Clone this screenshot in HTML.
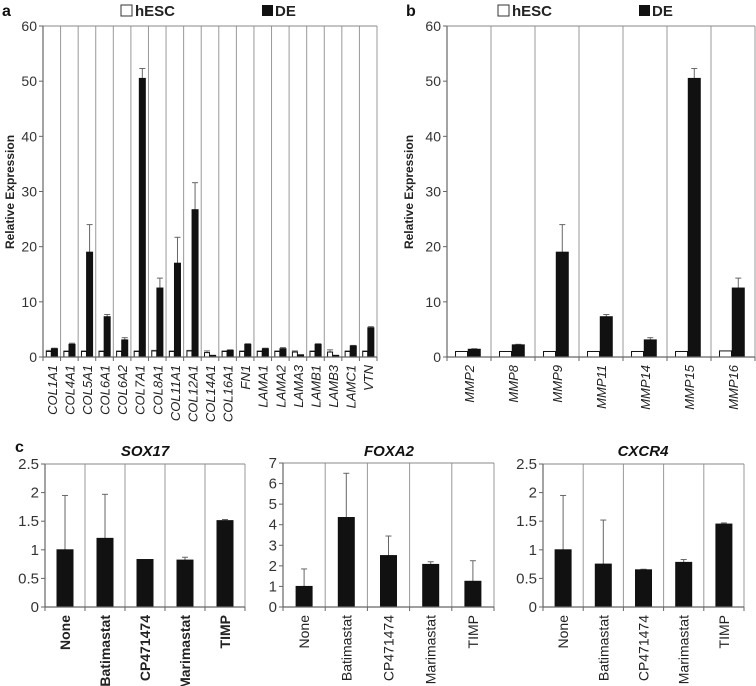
<!DOCTYPE html>
<html><head><meta charset="utf-8"><style>
body{margin:0;background:#fff}
svg{display:block;font-family:"Liberation Sans",sans-serif}
</style></head><body>
<svg id="s" width="756" height="686" xmlns="http://www.w3.org/2000/svg"></svg>
<script>
const aCats=["COL1A1","COL4A1","COL5A1","COL6A1","COL6A2","COL7A1","COL8A1","COL11A1","COL12A1","COL14A1","COL16A1","FN1","LAMA1","LAMA2","LAMA3","LAMB1","LAMB3","LAMC1","VTN"];
const aH=[1,1,1,1,1,1,1.1,1,1.1,0.8,1,1,1,1,0.9,1,0.9,1,1];
const aHe=[0.2,0.1,0.1,0.1,0.1,0.1,0.1,0.1,0.1,0.3,0.1,0.1,0.1,0.1,0.2,0.1,0.4,0.1,0.1];
const aD=[1.5,2.3,19,7.3,3.1,50.5,12.5,17,26.7,0.3,1.2,2.3,1.5,1.5,0.4,2.3,0.3,2,5.3];
const aDe=[0.1,0.2,5,0.4,0.4,1.8,1.8,4.7,4.9,0,0.1,0.1,0.1,0.2,0,0.1,0,0.1,0.2];
const bCats=["MMP2","MMP8","MMP9","MMP11","MMP14","MMP15","MMP16"];
const bH=[1,1,1,1,1,1,1.1];
const bD=[1.4,2.2,19,7.3,3.1,50.5,12.5];
const bDe=[0.1,0.1,5,0.4,0.4,1.8,1.8];
const abTicks=[0,10,20,30,40,50,60];
const cCats=["None","Batimastat","CP471474","Marimastat","TIMP"];
const soxV=[1,1.2,0.83,0.82,1.51];
const soxE=[0.95,0.77,0,0.05,0.02];
const foxV=[1,4.35,2.5,2.07,1.25];
const foxE=[0.85,2.15,0.95,0.13,1.0];
const cxcV=[1,0.75,0.65,0.78,1.45];
const cxcE=[0.95,0.77,0.01,0.05,0.02];
const t25=[0,0.5,1,1.5,2,2.5];
const t7=[0,1,2,3,4,5,6,7];
const labels25=["0","0.5","1","1.5","2","2.5"];

const S=document.getElementById('s');
function el(tag,at,txt){const e=document.createElementNS("http://www.w3.org/2000/svg",tag);for(const k in at)e.setAttribute(k,at[k]);if(txt!=null)e.textContent=txt;S.appendChild(e);return e;}

function panel(o){
  const {x0,x1,y0,y1,max,cats,ticks,tickLabels,series,name}=o;
  const ys=v=>y0-(v/max)*(y0-y1);
  const n=cats.length,w=(x1-x0)/n;
  const xs=i=>x0+w*i;
  for(let i=1;i<=n;i++){const g=el('line',{x1:xs(i),x2:xs(i),y1:y1,y2:y0,stroke:'#999','stroke-width':1});}
  const tb=el('line',{x1:x0,x2:x1,y1:y1,y2:y1,stroke:'#888','stroke-width':1});
  const ya=el('line',{x1:x0,x2:x0,y1:y1,y2:y0,stroke:'#666','stroke-width':1.2});
  ticks.forEach((t,i)=>{
    el('line',{x1:x0-4,x2:x0,y1:ys(t),y2:ys(t),stroke:'#666'});
    const tl=el('text',{x:x0-6,y:ys(t)+5,'text-anchor':'end','font-size':o.tfs||14,fill:'#333'},tickLabels?tickLabels[i]:t);
    
  });
  series.forEach(s=>{
    cats.forEach((c,i)=>{
      const cx=xs(i)+w*s.off;
      const v=s.vals[i],top=ys(v);
      if(s.err&&s.err[i]>0){
        el('line',{x1:cx,x2:cx,y1:ys(v+s.err[i]),y2:top,stroke:'#666'});
        el('line',{x1:cx-3,x2:cx+3,y1:ys(v+s.err[i]),y2:ys(v+s.err[i]),stroke:'#666'});
      }
      const r=el('rect',{x:cx-s.bw/2,y:top,width:s.bw,height:y0-top,fill:s.fill,stroke:'#111','stroke-width':1});
      
      
    });
  });
  const xa=el('line',{x1:x0,x2:x1,y1:y0,y2:y0,stroke:'#666','stroke-width':1.2});
  for(let i=0;i<=n;i++)el('line',{x1:xs(i),x2:xs(i),y1:y0,y2:y0+4,stroke:'#666'});
  cats.forEach((c,i)=>{
    const cx=xs(i)+w/2+5,ty=y0+8;
    const t=el('text',{x:cx,y:ty,transform:`rotate(-90 ${cx} ${ty})`,'text-anchor':'end','font-size':o.cfs||13,'font-style':o.italic?'italic':'normal','font-weight':o.bold?'bold':'normal',fill:'#222'},c);
    
  });
}
function legend(x,name){
  const r1=el('rect',{x:x,y:5,width:11,height:11,fill:'#fff',stroke:'#333'});
  const t1=el('text',{x:x+14,y:16,'font-size':15,'font-weight':'bold',fill:'#222'},'hESC');
  const r2=el('rect',{x:x+141,y:5,width:11,height:11,fill:'#111'});
  const t2=el('text',{x:x+154,y:16,'font-size':15,'font-weight':'bold',fill:'#222'},'DE');
}
function ytitle(x,y,name){const t=el('text',{x:x,y:y,transform:`rotate(-90 ${x} ${y})`,'text-anchor':'middle','font-size':12,'font-weight':'bold',fill:'#222'},'Relative Expression');}
function plabel(x,y,s){const t=el('text',{x:x,y:y,'font-size':16,'font-weight':'bold',fill:'#111'},s);}

plabel(2,16,'a');plabel(406,16,'b');plabel(15,452,'c');
legend(121,'a');legend(498,'b');
ytitle(14,192,'a');ytitle(413,192,'b');
panel({name:'a',x0:43,x1:377,y0:357,y1:26,max:60,cats:aCats,ticks:abTicks,italic:true,
  series:[{key:'hesc',vals:aH,err:aHe,off:0.33,bw:5,fill:'#fff'},{key:'de',vals:aD,err:aDe,off:0.65,bw:6,fill:'#111'}]});
panel({name:'b',x0:447,x1:755,y0:357,y1:26,max:60,cats:bCats,ticks:abTicks,italic:true,
  series:[{key:'hesc',vals:bH,err:null,off:0.33,bw:12,fill:'#fff'},{key:'de',vals:bD,err:bDe,off:0.62,bw:12,fill:'#111'}]});
const ct=[["SOX17",145],["FOXA2",389],["CXCR4",643]];
ct.forEach(([s,x])=>{const t=el('text',{x:x,y:456,'text-anchor':'middle','font-size':15,'font-weight':'bold','font-style':'italic',fill:'#111'},s);});
panel({name:'sox17',x0:45,x1:245,y0:607,y1:464,max:2.5,cats:cCats,ticks:t25,tickLabels:labels25,bold:true,cfs:14,tfs:15,
  series:[{key:'val',vals:soxV,err:soxE,off:0.5,bw:16,fill:'#111'}]});
panel({name:'foxa2',x0:283,x1:494,y0:607,y1:463,max:7,cats:cCats,ticks:t7,cfs:14,tfs:15,
  series:[{key:'val',vals:foxV,err:foxE,off:0.5,bw:16,fill:'#111'}]});
panel({name:'cxcr4',x0:543,x1:744,y0:607,y1:464,max:2.5,cats:cCats,ticks:t25,tickLabels:labels25,cfs:14,tfs:15,
  series:[{key:'val',vals:cxcV,err:cxcE,off:0.5,bw:16,fill:'#111'}]});
</script>
</body></html>
